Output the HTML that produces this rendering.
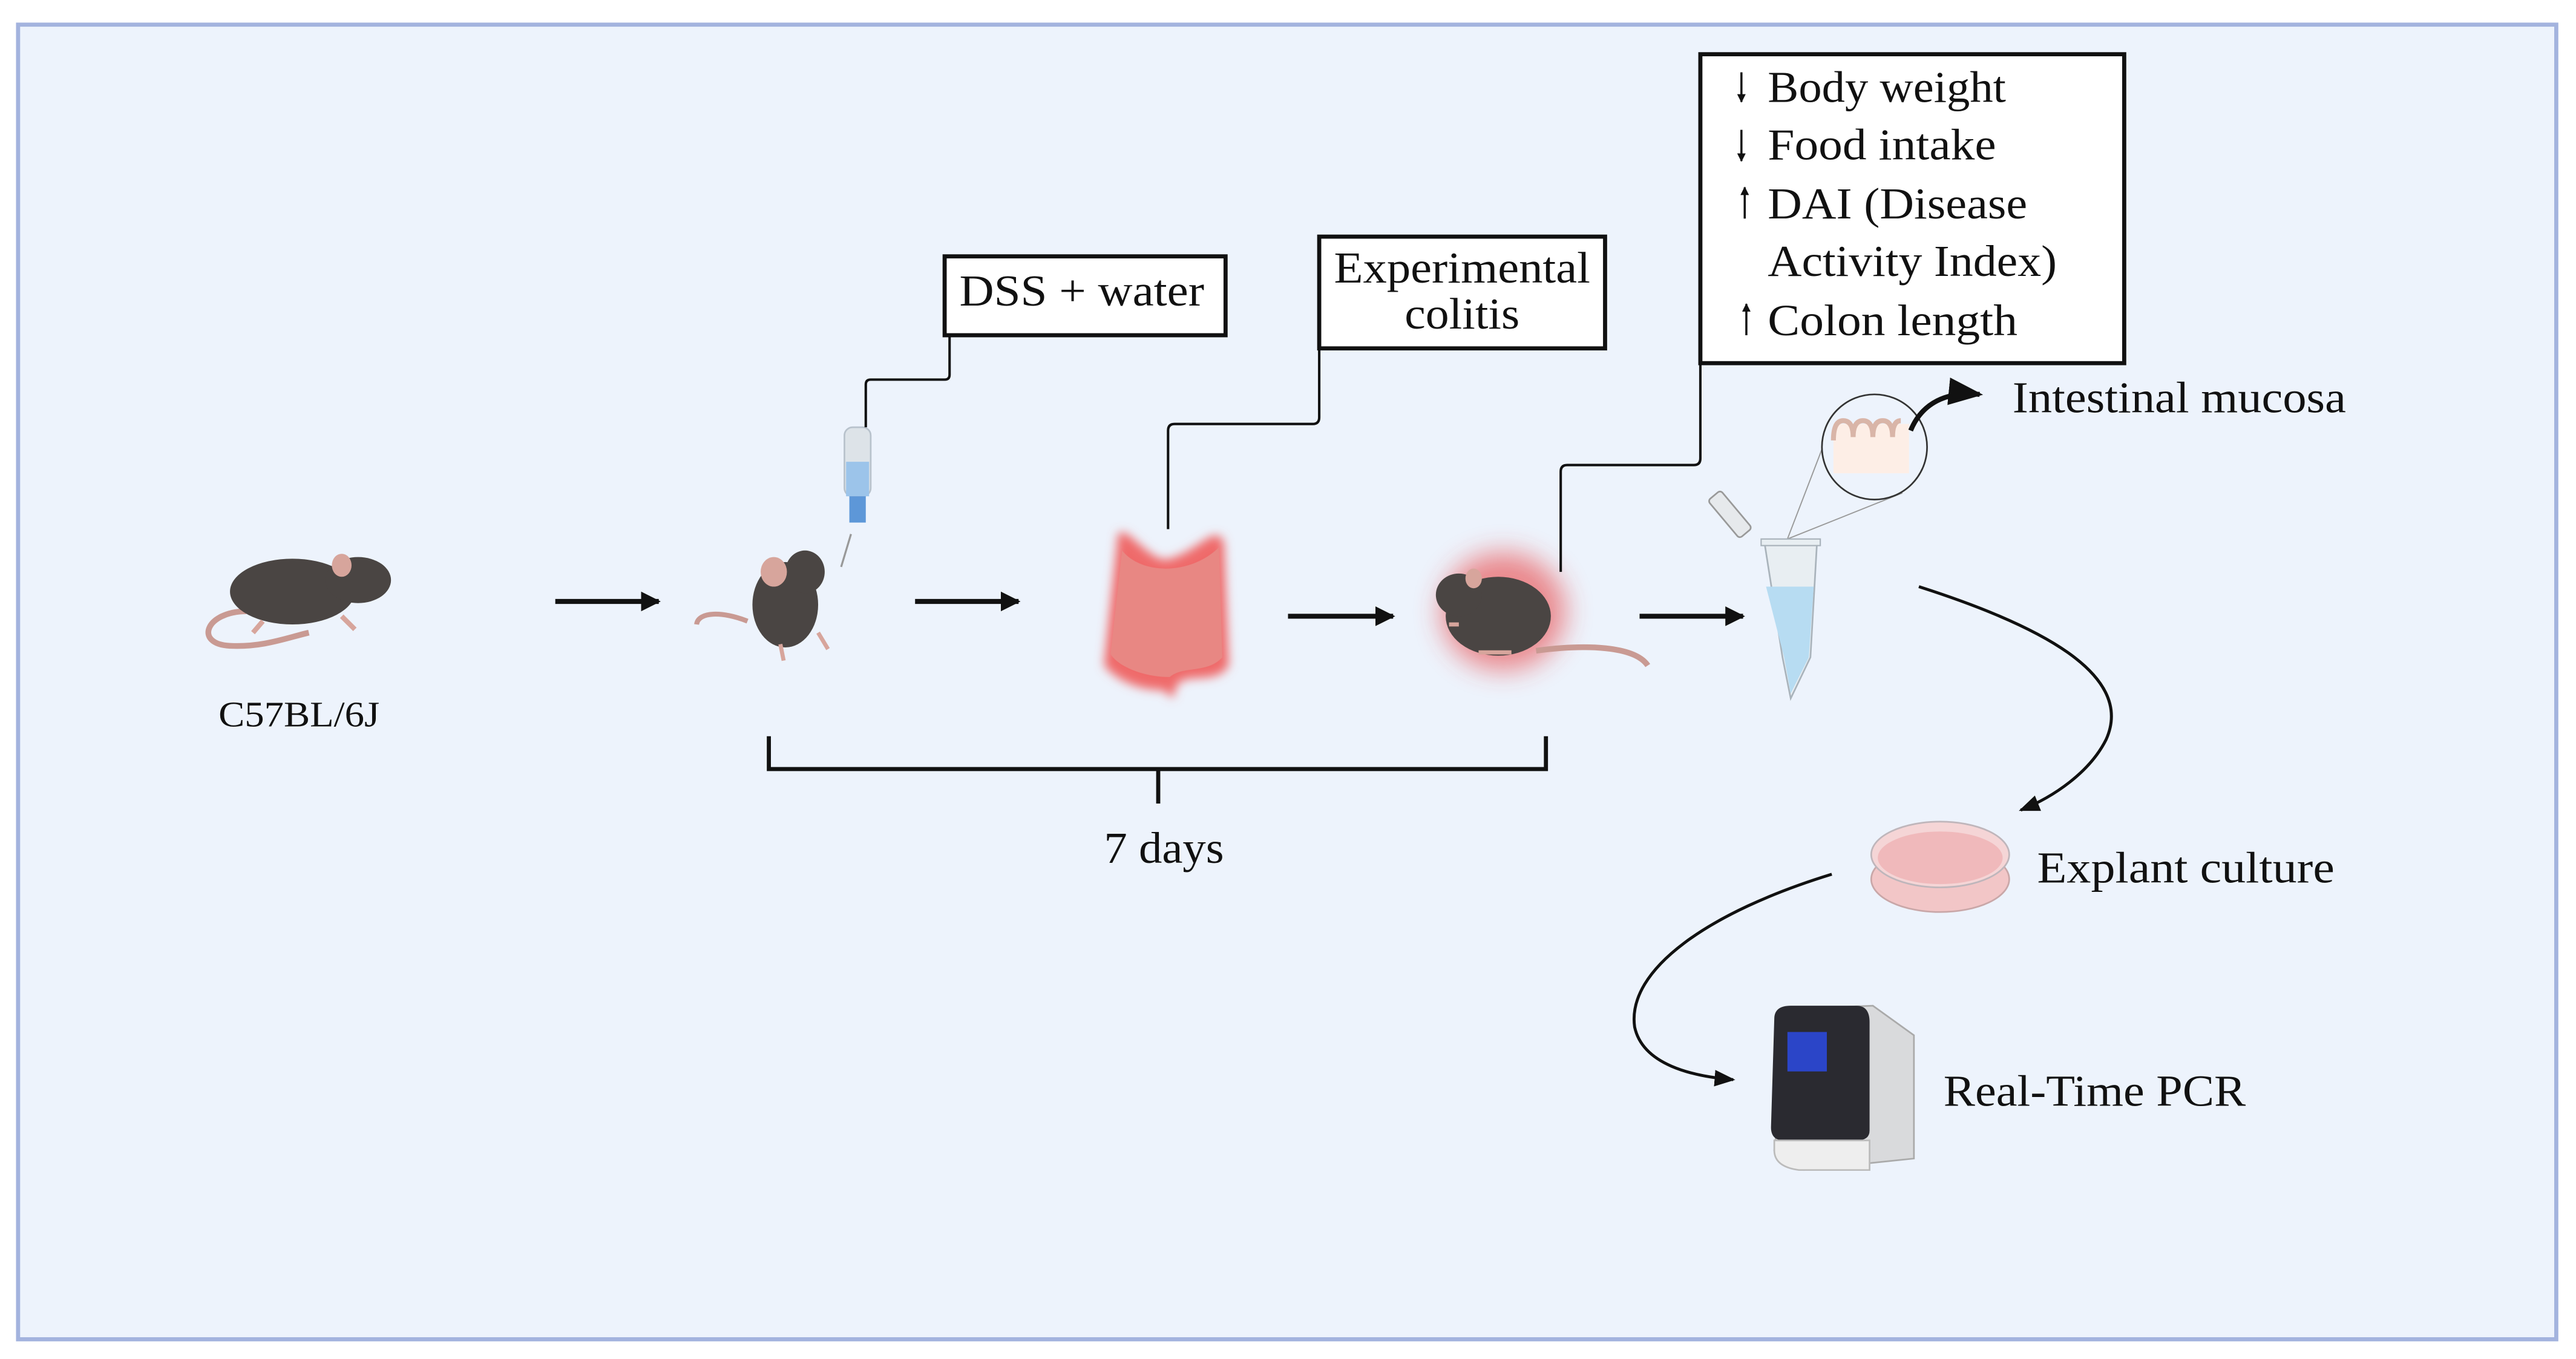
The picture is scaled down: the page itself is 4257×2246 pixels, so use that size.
<!DOCTYPE html>
<html><head><meta charset="utf-8"><style>
html,body{margin:0;padding:0;background:#fff;}
svg{display:block;}
text{font-family:"Liberation Serif",serif;fill:#111;}
</style></head><body>
<svg width="4257" height="2246" viewBox="0 0 1568 827" preserveAspectRatio="none" xmlns="http://www.w3.org/2000/svg">
<defs>
<marker id="ah" viewBox="0 0 10 10" refX="9" refY="5" markerWidth="4" markerHeight="4" orient="auto"><path d="M0,0 L10,5 L0,10 z" fill="#111"/></marker>
<marker id="ah2" viewBox="0 0 10 10" refX="9" refY="5" markerWidth="7" markerHeight="7" orient="auto"><path d="M0,1 L10,5 L0,9 z" fill="#111"/></marker>
<filter id="glow" x="-50%" y="-50%" width="200%" height="200%"><feGaussianBlur stdDeviation="8"/></filter>
<filter id="glow2" x="-50%" y="-50%" width="200%" height="200%"><feGaussianBlur stdDeviation="3"/></filter>
</defs>
<rect x="0" y="0" width="1568" height="827" fill="#fff"/>
<rect x="11" y="15" width="1545" height="800" fill="#edf3fc" stroke="#a3b3de" stroke-width="2.5"/>

<!-- Mouse 1 -->
<g>
<path d="M150,372 C125,372 118,392 140,393 C160,394 175,388 188,385" fill="none" stroke="#c99a93" stroke-width="3.5"/>
<ellipse cx="178" cy="360" rx="38" ry="20" fill="#4a4543"/>
<ellipse cx="218" cy="353" rx="20" ry="14" fill="#4a4543"/>
<ellipse cx="208" cy="344" rx="6" ry="7" fill="#d7a59c"/>
<path d="M160,378 l-6,7 M208,375 l8,8" stroke="#d7a59c" stroke-width="3"/>
</g>
<text x="133" y="442" font-size="22" textLength="98" lengthAdjust="spacingAndGlyphs">C57BL/6J</text>

<!-- Arrows -->
<g stroke="#111" stroke-width="3" marker-end="url(#ah)">
<line x1="338" y1="366" x2="401" y2="366"/>
<line x1="557" y1="366" x2="620" y2="366"/>
<line x1="784" y1="375" x2="848" y2="375"/>
<line x1="998" y1="375" x2="1061" y2="375"/>
</g>

<!-- Mouse 2 + bottle -->
<g>
<path d="M455,378 C440,372 425,372 424,380" fill="none" stroke="#c99a93" stroke-width="3"/>
<ellipse cx="478" cy="368" rx="20" ry="26" fill="#4a4543"/>
<ellipse cx="490" cy="348" rx="12" ry="13" fill="#4a4543"/>
<ellipse cx="471" cy="348" rx="8" ry="9" fill="#d7a59c"/>
<path d="M475,392 l2,10 M498,385 l6,10" stroke="#d7a59c" stroke-width="2.5"/>
<path d="M518,325 L512,345" stroke="#999" stroke-width="1.2" fill="none"/>
<rect x="514" y="260" width="16" height="42" rx="5" fill="#dde3e8" stroke="#b8c2cc" stroke-width="1"/>
<rect x="515" y="281" width="14" height="21" fill="#9cc4ea"/>
<rect x="517" y="302" width="10" height="16" fill="#5d97d8"/>
</g>

<!-- Colon -->
<g>
<path d="M680,330 C680,310 700,345 712,340 C730,335 740,318 745,330 L748,405 C740,418 720,408 716,418 L714,425 L708,420 C690,420 678,412 672,405 Z" fill="#ef6a6a" filter="url(#glow2)"/>
<path d="M683,335 C695,350 725,350 742,333 L744,400 C735,410 720,405 712,412 C695,412 680,405 676,398 Z" fill="#e88783"/>
</g>

<!-- Mouse 3 with glow -->
<g>
<ellipse cx="915" cy="372" rx="38" ry="36" fill="#e83030" opacity="0.55" filter="url(#glow)"/>
<path d="M935,396 C965,392 995,393 1003,405" fill="none" stroke="#c99a93" stroke-width="3.5"/>
<ellipse cx="912" cy="375" rx="32" ry="24" fill="#4a4543"/>
<ellipse cx="888" cy="362" rx="14" ry="13" fill="#4a4543"/>
<ellipse cx="897" cy="352" rx="5" ry="6" fill="#d7a59c"/>
<path d="M882,380 l6,0 M900,397 l20,0" stroke="#d7a59c" stroke-width="2.5"/>
</g>

<!-- Callout connectors -->
<g fill="none" stroke="#111" stroke-width="1.5">
<path d="M578,204 V228 Q578,231 575,231 H530 Q527,231 527,234 V260"/>
<path d="M803,212 V254 Q803,258 799,258 H715 Q711,258 711,262 V322"/>
<path d="M1035,221 V279 Q1035,283 1031,283 H954 Q950,283 950,287 V348"/>
</g>

<!-- Boxes -->
<rect x="575" y="156" width="171" height="48" fill="#fff" stroke="#111" stroke-width="2.5"/>
<text x="584" y="186" font-size="27" textLength="149" lengthAdjust="spacingAndGlyphs">DSS + water</text>
<rect x="803" y="144" width="174" height="68" fill="#fff" stroke="#111" stroke-width="2.5"/>
<text x="812" y="172" font-size="27" textLength="156" lengthAdjust="spacingAndGlyphs">Experimental</text>
<text x="855" y="200" font-size="27" textLength="70" lengthAdjust="spacingAndGlyphs">colitis</text>
<rect x="1035" y="33" width="258" height="188" fill="#fff" stroke="#111" stroke-width="2.5"/>
<g font-size="27" lengthAdjust="spacingAndGlyphs">
<text x="1076" y="62" textLength="145" lengthAdjust="spacingAndGlyphs">Body weight</text>
<text x="1076" y="97" textLength="139" lengthAdjust="spacingAndGlyphs">Food intake</text>
<text x="1076" y="133" textLength="158" lengthAdjust="spacingAndGlyphs">DAI (Disease</text>
<text x="1076" y="168" textLength="176" lengthAdjust="spacingAndGlyphs">Activity Index)</text>
<text x="1076" y="204" textLength="152" lengthAdjust="spacingAndGlyphs">Colon length</text>
</g>
<g stroke="#111" stroke-width="1.3">
<line x1="1060" y1="44" x2="1060" y2="62" marker-end="url(#ah)"/>
<line x1="1060" y1="79" x2="1060" y2="98" marker-end="url(#ah)"/>
<line x1="1062" y1="133" x2="1062" y2="114" marker-end="url(#ah)"/>
<line x1="1063" y1="204" x2="1063" y2="185" marker-end="url(#ah)"/>
</g>

<!-- Tube + magnifier -->
<g>
<line x1="1088" y1="328" x2="1113" y2="263" stroke="#999" stroke-width="0.7"/>
<line x1="1088" y1="328" x2="1158" y2="300" stroke="#999" stroke-width="0.7"/>
<circle cx="1141" cy="272" r="32" fill="#edf3fc" stroke="#333" stroke-width="1"/>
<rect x="1116" y="258" width="46" height="30" fill="#fdeee6"/>
<path d="M1116,268 q0,-12 6,-12 q6,0 6,10 q0,-10 6,-10 q6,0 6,10 q0,-10 6,-10 q6,0 6,10 q0,-10 5,-10" fill="none" stroke="#d9b5a8" stroke-width="3"/>
<path d="M1163,262 C1170,245 1185,238 1205,240" fill="none" stroke="#111" stroke-width="3" marker-end="url(#ah2)"/>
<rect x="1048" y="298" width="10" height="30" rx="2" fill="#e6e9ec" stroke="#999" transform="rotate(-40 1053 313)"/>
<path d="M1074,330 H1106 L1102,400 L1090,425 L1085,400 Z" fill="#e8eef2" stroke="#a9b3bb"/>
<path d="M1075,357 H1104 L1101,400 L1090,422 L1086,400 Z" fill="#b7dcf2"/>
<rect x="1072" y="328" width="36" height="4" fill="#e8eef2" stroke="#a9b3bb" stroke-width="0.8"/>
</g>
<text x="1225" y="251" font-size="27" textLength="203" lengthAdjust="spacingAndGlyphs">Intestinal mucosa</text>

<!-- Curves -->
<path d="M1168,357 C1240,380 1300,410 1282,450 C1272,470 1250,485 1230,493" fill="none" stroke="#111" stroke-width="1.8" marker-end="url(#ah2)"/>
<path d="M1115,532 C1040,555 990,590 995,625 C1000,648 1030,655 1055,657" fill="none" stroke="#111" stroke-width="1.8" marker-end="url(#ah2)"/>

<!-- Dish -->
<g>
<ellipse cx="1181" cy="535" rx="42" ry="20" fill="#f2c6c7" stroke="#c9a7a8"/>
<ellipse cx="1181" cy="520" rx="42" ry="20" fill="#f5d5d6" stroke="#bfb6bb"/>
<ellipse cx="1181" cy="522" rx="38" ry="16" fill="#f0b9bb"/>
</g>
<text x="1240" y="537" font-size="27" textLength="181" lengthAdjust="spacingAndGlyphs">Explant culture</text>

<!-- PCR -->
<g>
<path d="M1090,614 L1140,612 L1165,630 L1165,705 L1098,712 L1080,700 Z" fill="#d9dadc" stroke="#aaa"/>
<path d="M1080,620 Q1080,612 1090,612 L1130,612 Q1138,612 1138,622 L1138,688 Q1138,694 1130,694 L1086,694 Q1078,694 1078,686 Z" fill="#2a2a30"/>
<rect x="1088" y="628" width="24" height="24" fill="#2b45c8"/>
<path d="M1080,694 L1138,694 L1138,712 L1095,712 Q1080,710 1080,700 Z" fill="#eeeeee" stroke="#bbb"/>
</g>
<text x="1183" y="673" font-size="27" textLength="184" lengthAdjust="spacingAndGlyphs">Real-Time PCR</text>

<!-- Bracket -->
<path d="M468,448 V468 H941 V448 M705,468 V489" fill="none" stroke="#111" stroke-width="2.5"/>
<text x="672" y="525" font-size="27" textLength="73" lengthAdjust="spacingAndGlyphs">7 days</text>
</svg>
</body></html>
